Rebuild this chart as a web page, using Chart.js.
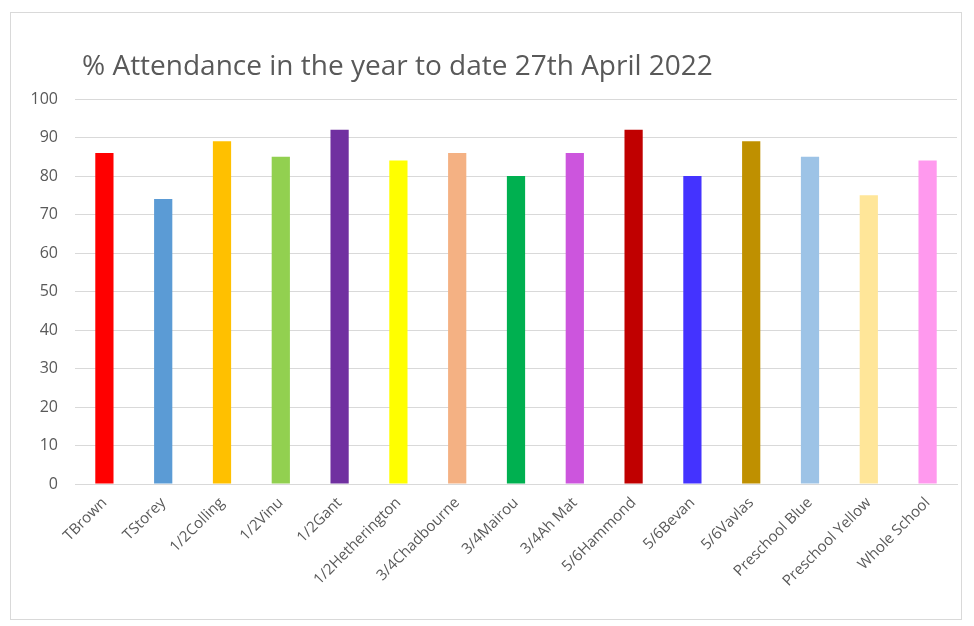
<!DOCTYPE html>
<html>
<head>
<meta charset="utf-8">
<script src="https://cdn.jsdelivr.net/npm/chart.js@4.4.1/dist/chart.umd.min.js"></script>
<style>
  html, body { margin: 0; padding: 0; background: #fff; }
  #box {
    position: absolute; left: 10px; top: 12px;
    width: 950px; height: 606px;
    border: 1px solid #d9d9d9;
  }
</style>
</head>
<body>
<div id="box"><canvas id="myChart"></canvas></div>
<script>
var chartTitle = '% Attendance in the year to date 27th April 2022';
var classes = ['TBrown', 'TStorey', '1/2Colling', '1/2Vinu', '1/2Gant', '1/2Hetherington',
  '3/4Chadbourne', '3/4Mairou', '3/4Ah Mat', '5/6Hammond', '5/6Bevan', '5/6Vavlas',
  'Preschool Blue', 'Preschool Yellow', 'Whole School'];
var attendance = [86, 74, 89, 85, 92, 84, 86, 80, 86, 92, 80, 89, 85, 75, 84];
var barColors = ['#ff0000', '#5b9bd5', '#ffc000', '#92d050', '#7030a0', '#ffff00',
  '#f4b183', '#00b050', '#cc55dd', '#c00000', '#4433ff', '#bf9000',
  '#9dc3e6', '#ffe699', '#ff99ee'];
var yTicks = [0, 10, 20, 30, 40, 50, 60, 70, 80, 90, 100];

var canvas = document.getElementById('myChart');
var ctx = canvas.getContext('2d');

// title drawn by hand so it can sit left, above the plot like in Excel
var titlePlugin = {
  id: 'leftTitle',
  afterDraw: function (chart) {
    var c = chart.ctx;
    c.save();
    c.font = '28px "Open Sans"';
    c.fillStyle = '#595959';
    c.textBaseline = 'alphabetic';
    c.fillText(chartTitle, 71, 62);
    c.restore();
  }
};

new Chart(ctx, {
  type: 'bar',
  data: {
    labels: classes,
    datasets: [{
      label: '% Attendance',
      data: attendance,
      backgroundColor: barColors,
      barPercentage: 0.31,
      categoryPercentage: 1
    }]
  },
  options: {
    responsive: true,
    maintainAspectRatio: false,
    animation: false,
    layout: { padding: { top: 86, right: 4, left: 0, bottom: 0 } },
    scales: {
      x: {
        grid: { display: false },
        border: { color: '#d9d9d9' },
        ticks: {
          color: '#595959',
          font: { family: '"Open Sans"', size: 15 },
          minRotation: 45,
          maxRotation: 45,
          autoSkip: false,
          padding: 2
        },
        afterFit: function (scale) { scale.height = 135; }
      },
      y: {
        min: 0,
        max: 100,
        afterBuildTicks: function (scale) {
          scale.ticks = yTicks.map(function (v) { return { value: v }; });
        },
        grid: { color: '#d9d9d9', drawTicks: false },
        border: { display: false },
        ticks: {
          color: '#595959',
          font: { family: '"Open Sans"', size: 16 },
          padding: 17
        },
        afterFit: function (scale) { scale.width = 64; }
      }
    },
    plugins: {
      legend: { display: false },
      tooltip: { enabled: false }
    }
  },
  plugins: [titlePlugin]
});
</script>
</body>
</html>
